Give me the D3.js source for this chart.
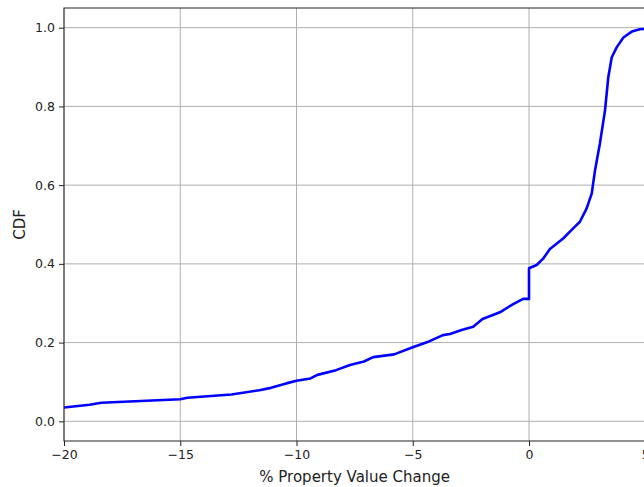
<!DOCTYPE html>
<html lang="en">
<head>
    <meta charset="UTF-8">
    <title>CDF of property value change</title>
    <script src="https://d3js.org/d3.v7.min.js"></script>
    <style>
        body{ margin: 0; background: #fff; }
        svg{ display: block; font-family: "DejaVu Sans", sans-serif; }
        .grid line{ stroke: #b0b0b0; stroke-width: 1; }
    </style>
</head>
<body>
<svg width="644" height="487"></svg>

<script>
    // values
    const changeValues = [-20, -18.9, -18.4, -15, -14.7, -12.8, -11.6, -11.1, -10.4, -10, -9.4, -9.1,
        -8.3, -7.7, -7.1, -6.7, -5.8, -5, -4.3, -3.7, -3.4, -2.9, -2.4, -2, -1.25, -0.7, -0.25, 0,
        0, 0.33, 0.62, 0.9, 1.05, 1.48, 1.9, 2.19, 2.48, 2.7, 2.84, 3.05, 3.27, 3.41, 3.56, 3.77,
        4.06, 4.42, 4.77, 5]
    const cdfValues = [0.035, 0.042, 0.047, 0.056, 0.06, 0.068, 0.079, 0.085, 0.097, 0.103, 0.109, 0.118,
        0.13, 0.143, 0.152, 0.163, 0.17, 0.188, 0.203, 0.219, 0.222, 0.232, 0.24, 0.26, 0.277, 0.297, 0.311, 0.311,
        0.389, 0.397, 0.414, 0.438, 0.445, 0.465, 0.49, 0.507, 0.541, 0.579, 0.638, 0.706, 0.79, 0.874, 0.925, 0.95,
        0.975, 0.99, 0.996, 0.997]
    const xTicks = [-20, -15, -10, -5, 0, 5]
    const yTicks = [0.0, 0.2, 0.4, 0.6, 0.8, 1.0]

    const svg = d3.select("svg")
    const mLeft = 64, mRight = 645.25, mTop = 8, mBottom = 441

    const xScale = d3.scaleLinear().domain([-20, 5]).range([mLeft, mRight])
    const yScale = d3.scaleLinear().domain([-0.05, 1.05]).range([mBottom, mTop])

    // grid
    const grid = svg.append("g").attr("class", "grid")
    grid.selectAll(".gx").data(xTicks).enter().append("line")
        .attr("x1", d => xScale(d)).attr("x2", d => xScale(d))
        .attr("y1", mTop).attr("y2", mBottom)
    grid.selectAll(".gy").data(yTicks).enter().append("line")
        .attr("x1", mLeft).attr("x2", mRight)
        .attr("y1", d => yScale(d)).attr("y2", d => yScale(d))

    // curve
    const points = changeValues.map((x, i) => [x, cdfValues[i]])
    const lineGenerator = d3.line().x(d => xScale(d[0])).y(d => yScale(d[1]))
    svg.append("path")
        .datum(points)
        .attr("d", lineGenerator)
        .attr("fill", "none")
        .attr("stroke", "blue")
        .attr("stroke-width", 2.6)
        .attr("stroke-linejoin", "round")

    // axes
    const xAxis = d3.axisBottom(xScale).tickValues(xTicks).tickSize(5).tickPadding(4)
        .tickFormat(d => d < 0 ? "\u2212" + Math.abs(d) : d)
    const yAxis = d3.axisLeft(yScale).tickValues(yTicks).tickSize(5).tickPadding(4)
        .tickFormat(d3.format(".1f"))

    svg.append("g").attr("transform", `translate(0,${mBottom})`).call(xAxis)
        .call(g => g.select(".domain").remove())
    svg.append("g").attr("transform", `translate(${mLeft},0)`).call(yAxis)
        .call(g => g.select(".domain").remove())
    svg.selectAll(".tick text").attr("font-size", 12.5).attr("font-family", "DejaVu Sans").attr("fill", "#222")
    svg.selectAll(".tick line").attr("stroke", "#222")

    // spines
    svg.append("rect")
        .attr("x", mLeft).attr("y", mTop)
        .attr("width", mRight - mLeft).attr("height", mBottom - mTop)
        .attr("fill", "none").attr("stroke", "#222").attr("stroke-width", 1)

    // labels
    svg.append("text")
        .attr("x", (mLeft + mRight) / 2).attr("y", 482)
        .attr("text-anchor", "middle").attr("font-size", 15).attr("fill", "#222")
        .text("% Property Value Change")
    svg.append("text")
        .attr("transform", `translate(25,${(mTop + mBottom) / 2}) rotate(-90)`)
        .attr("text-anchor", "middle").attr("font-size", 15).attr("fill", "#222")
        .text("CDF")
</script>
</body>
</html>
